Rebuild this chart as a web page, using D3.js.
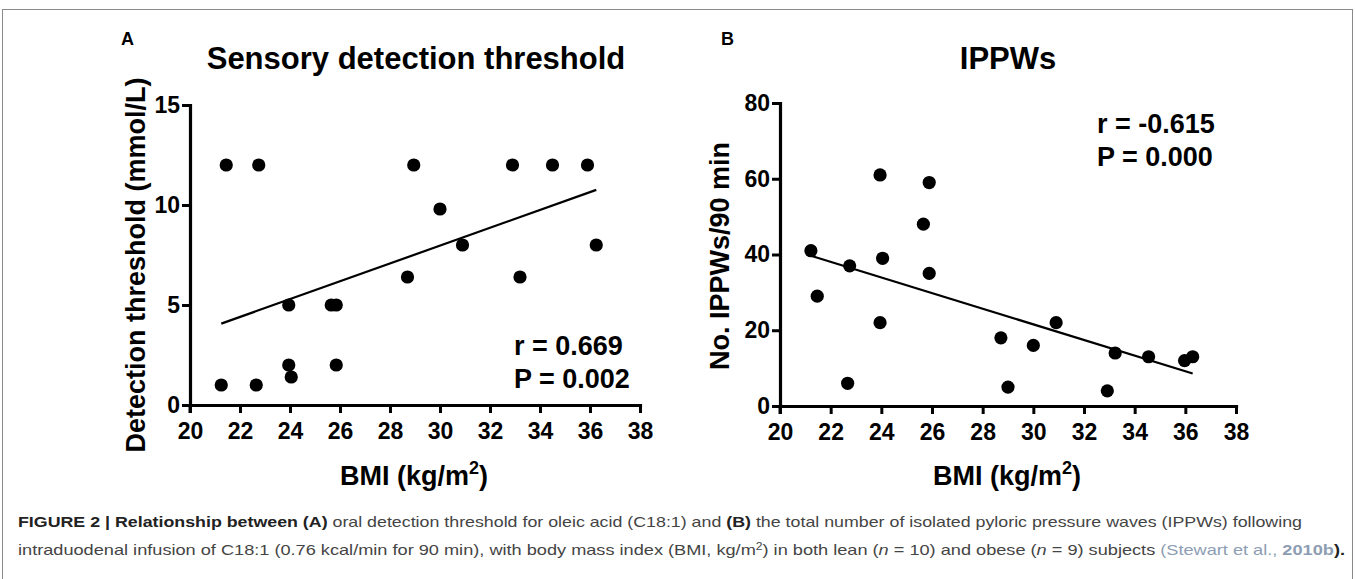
<!DOCTYPE html>
<html>
<head>
<meta charset="utf-8">
<script src="https://cdn.jsdelivr.net/npm/d3@7"></script>
<style>
    body { margin: 0; background: #fff; }
    svg { display: block; }
    .tick text { font-family: "Liberation Sans", Arial, sans-serif; font-weight: bold; }
</style>
</head>
<body>
<div id="figure"></div>
<script>
// panel A: BMI and detection threshold (mmol/L) of the 19 subjects
const bmiA = [21.25, 21.45, 22.65, 22.75, 23.95, 23.95, 24.05, 25.65, 25.85, 25.85,
    28.7, 28.95, 30.0, 30.9, 32.9, 33.2, 34.5, 35.9, 36.25];
const thresholdValues = [1, 12, 1, 12, 5, 2, 1.4, 5, 5, 2, 6.4, 12, 9.8, 8, 12, 6.4, 12, 12, 8];
// panel B: BMI and number of IPPWs per 90 min
const bmiB = [21.22, 21.47, 22.67, 22.75, 23.95, 23.95, 24.05, 25.66, 25.89, 25.89,
    28.72, 29.0, 30.0, 30.9, 32.92, 33.23, 34.55, 35.97, 36.29];
const ippwValues = [41, 29, 6, 37, 61, 22, 39, 48, 59, 35, 18, 5, 16, 22, 4, 14, 13, 12, 13];

const xTicks = [20, 22, 24, 26, 28, 30, 32, 34, 36, 38];
const yTicksA = [0, 5, 10, 15];
const yTicksB = [0, 20, 40, 60, 80];

const fontFamily = "'Liberation Sans', Arial, sans-serif";
const width = 1355, height = 579;

const svg = d3.select("#figure")
    .append("svg")
    .attr("width", width)
    .attr("height", height);

// frame of the figure
svg.append("rect")
    .attr("x", 2.5).attr("y", 9.5)
    .attr("width", width - 5).attr("height", 620)
    .attr("fill", "none")
    .attr("stroke", "#8a8a8a")
    .attr("stroke-width", 1);

const linearFit = (xs, ys) => {
    const mx = d3.mean(xs), my = d3.mean(ys);
    let sxy = 0, sxx = 0;
    xs.forEach((x, i) => {
        sxy += (x - mx) * (ys[i] - my);
        sxx += (x - mx) * (x - mx);
    });
    const slope = sxy / sxx;
    return x => my + slope * (x - mx);
}

const drawPanel = (cfg) => {
    const g = svg.append("g");
    const x = d3.scaleLinear().domain([20, 38]).range(cfg.xRange);
    const y = d3.scaleLinear().domain(cfg.yDomain).range(cfg.yRange);

    // regression line
    const fit = linearFit(cfg.xs, cfg.ys);
    const ext = d3.extent(cfg.xs);
    g.append("path")
        .datum(ext)
        .attr("d", d3.line().x(d => x(d)).y(d => y(fit(d))))
        .attr("stroke", "#000")
        .attr("stroke-width", 2.2)
        .attr("fill", "none");

    // points
    g.append("g")
        .selectAll("circle")
        .data(cfg.xs.map((d, i) => [d, cfg.ys[i]]))
        .enter()
        .append("circle")
        .attr("cx", d => x(d[0]))
        .attr("cy", d => y(d[1]))
        .attr("r", 6.6)
        .attr("fill", "#000");

    // axes
    const xAxis = g.append("g")
        .attr("transform", "translate(0," + cfg.yRange[0] + ")")
        .call(d3.axisBottom(x).tickValues(xTicks).tickSize(8).tickSizeOuter(0).tickPadding(10));
    const yAxis = g.append("g")
        .attr("transform", "translate(" + cfg.xRange[0] + ",0)")
        .call(d3.axisLeft(y).tickValues(cfg.yTicks).tickSize(8).tickSizeOuter(0).tickPadding(2));
    [xAxis, yAxis].forEach(a => {
        a.select(".domain").attr("stroke-width", 3.2).attr("stroke-linecap", "square");
        a.selectAll(".tick line").attr("stroke-width", 3);
        a.selectAll(".tick text").attr("font-size", 23).attr("fill", "#000");
    });
    // extend y axis a little below the x axis
    g.append("line")
        .attr("x1", cfg.xRange[0]).attr("x2", cfg.xRange[0])
        .attr("y1", cfg.yRange[0]).attr("y2", cfg.yRange[0] + 8)
        .attr("stroke", "#000").attr("stroke-width", 3);

    // panel letter
    g.append("text")
        .attr("x", cfg.letterX).attr("y", 45)
        .attr("font-family", fontFamily).attr("font-weight", "bold")
        .attr("font-size", 18)
        .text(cfg.letter);

    // title
    g.append("text")
        .attr("x", cfg.titleX).attr("y", 69)
        .attr("text-anchor", "middle")
        .attr("font-family", fontFamily).attr("font-weight", "bold")
        .attr("font-size", 31)
        .text(cfg.title);

    // y axis title
    g.append("text")
        .attr("transform", "translate(" + cfg.yLabelX + "," + cfg.yLabelY + ") rotate(-90)")
        .attr("text-anchor", "middle")
        .attr("font-family", fontFamily).attr("font-weight", "bold")
        .attr("font-size", 27)
        .text(cfg.yLabel);

    // x axis title
    const xl = g.append("text")
        .attr("x", (cfg.xRange[0] + cfg.xRange[1]) / 2 - 1)
        .attr("y", 485)
        .attr("text-anchor", "middle")
        .attr("font-family", fontFamily).attr("font-weight", "bold")
        .attr("font-size", 27);
    xl.append("tspan").text("BMI (kg/m");
    xl.append("tspan").attr("dy", -11).attr("font-size", 18).text("2");
    xl.append("tspan").attr("dy", 11).text(")");

    // statistics
    const stats = g.append("text")
        .attr("font-family", fontFamily).attr("font-weight", "bold")
        .attr("font-size", 27);
    cfg.stats.forEach((s, i) => {
        stats.append("tspan")
            .attr("x", cfg.statX)
            .attr("y", cfg.statY + i * 33)
            .text(s);
    });
}

drawPanel({
    letter: "A", letterX: 121,
    title: "Sensory detection threshold", titleX: 416,
    xRange: [190, 640], yRange: [405, 105], yDomain: [0, 15], yTicks: yTicksA,
    xs: bmiA, ys: thresholdValues,
    yLabel: "Detection threshold (mmol/L)", yLabelX: 145, yLabelY: 265,
    stats: ["r = 0.669", "P = 0.002"], statX: 514, statY: 355
});

drawPanel({
    letter: "B", letterX: 721,
    title: "IPPWs", titleX: 1008,
    xRange: [780, 1236], yRange: [406, 103], yDomain: [0, 80], yTicks: yTicksB,
    xs: bmiB, ys: ippwValues,
    yLabel: "No. IPPWs/90 min", yLabelX: 729, yLabelY: 256,
    stats: ["r = -0.615", "P = 0.000"], statX: 1097, statY: 133
});

// caption
const caption = svg.append("g")
    .attr("font-family", "'Liberation Sans Narrow', 'Arial Narrow', 'Liberation Sans', sans-serif")
    .attr("font-size", 15)
    .attr("fill", "#444");

const line1 = caption.append("text")
    .attr("x", 18).attr("y", 527)
    .attr("textLength", 1284).attr("lengthAdjust", "spacingAndGlyphs");
line1.append("tspan").attr("font-weight", "bold").attr("fill", "#222").text("FIGURE 2 | Relationship between (A)");
line1.append("tspan").text(" oral detection threshold for oleic acid (C18:1) and ");
line1.append("tspan").attr("font-weight", "bold").attr("fill", "#222").text("(B)");
line1.append("tspan").text(" the total number of isolated pyloric pressure waves (IPPWs) following");

const line2 = caption.append("text")
    .attr("x", 18).attr("y", 555)
    .attr("textLength", 1327).attr("lengthAdjust", "spacingAndGlyphs");
line2.append("tspan").text("intraduodenal infusion of C18:1 (0.76 kcal/min for 90 min), with body mass index (BMI, kg/m");
line2.append("tspan").attr("dy", -5).attr("font-size", 10).text("2");
line2.append("tspan").attr("dy", 5).text(") in both lean (");
line2.append("tspan").attr("font-style", "italic").text("n");
line2.append("tspan").text(" = 10) and obese (");
line2.append("tspan").attr("font-style", "italic").text("n");
line2.append("tspan").text(" = 9) subjects ");
line2.append("tspan").attr("fill", "#8d9db3").text("(Stewart et al., ");
line2.append("tspan").attr("fill", "#8d9db3").attr("font-weight", "bold").text("2010b");
line2.append("tspan").attr("font-weight", "bold").attr("fill", "#222").text(").");
</script>
</body>
</html>
